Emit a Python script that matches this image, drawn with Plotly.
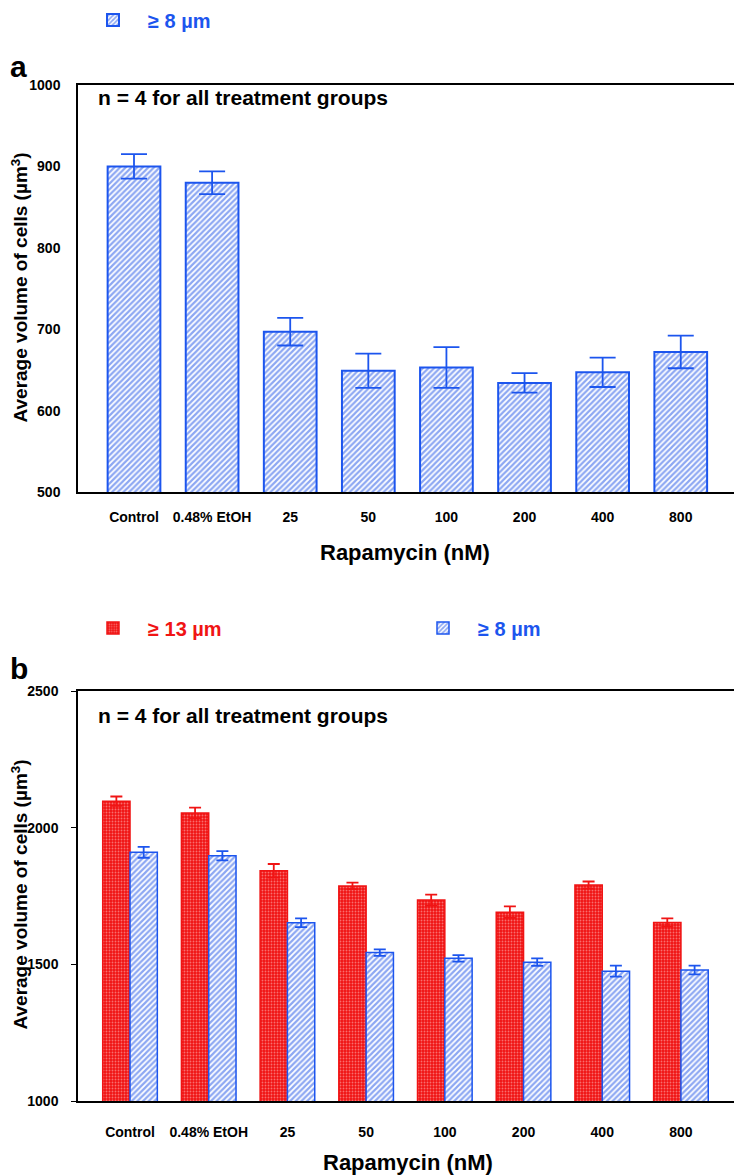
import plotly.graph_objects as go

categories = ["Control", "0.48% EtOH", "25", "50", "100", "200", "400", "800"]

# Panel a: >= 8 um
a_vals = [900, 880, 697, 649, 653, 634, 647, 672]
a_errs = [15, 14, 17, 21, 25, 12, 18, 20]

# Panel b: >= 13 um and >= 8 um
b13_vals = [2097, 2054, 1842, 1787, 1735, 1691, 1790, 1653]
b13_errs = [17, 19, 25, 12, 20, 21, 13, 15]
b8_vals = [1910, 1897, 1652, 1543, 1522, 1508, 1475, 1479]
b8_errs = [20, 17, 16, 12, 12, 14, 20, 16]

etoh_cats = ["25", "50", "100", "200", "400", "800"]

BLUE = "#1c55ee"
RED = "#f01414"
FONT = "Liberation Sans, Arial, sans-serif"
W, H = 742, 1176
OFF = 8  # page body margin offset

def px_x(p):
    return (p - OFF) / W

def px_y(p):
    return 1 - (p - OFF) / H

xa_dom = [px_x(78), px_x(738)]
ya_dom = [px_y(492), px_y(85)]
yb_dom = [px_y(1101), px_y(691)]

blue_pattern = dict(shape="/", fgcolor="#1a4fe6", bgcolor="white", size=4, solidity=0.55)

fig = go.Figure()

fig.add_trace(go.Bar(
    x=categories, y=a_vals, name="≥ 8 µm", width=0.675,
    marker=dict(color="white", line=dict(color=BLUE, width=2), pattern=blue_pattern),
    error_y=dict(type="data", array=a_errs, color=BLUE, thickness=1.8, width=13),
    xaxis="x", yaxis="y", legend="legend",
))

fig.add_trace(go.Bar(
    x=categories, y=b13_vals, name="≥ 13 µm",
    marker=dict(color=RED, line=dict(color=RED, width=1.5),
                pattern=dict(shape=".", fgcolor="#ffc8c8", bgcolor=RED, size=3, solidity=0.3)),
    error_y=dict(type="data", array=b13_errs, color=RED, thickness=1.8, width=6),
    xaxis="x2", yaxis="y2", legend="legend2",
))
fig.add_trace(go.Bar(
    x=categories, y=b8_vals, name="≥ 8 µm",
    marker=dict(color="white", line=dict(color=BLUE, width=1.5), pattern=blue_pattern),
    error_y=dict(type="data", array=b8_errs, color=BLUE, thickness=1.8, width=6),
    xaxis="x2", yaxis="y2", legend="legend3",
))

axis_common = dict(showline=True, linecolor="black", linewidth=1.5, mirror=True,
                   showgrid=False, zeroline=False,
                   tickfont=dict(family=FONT, size=14, color="black", weight="bold"))

legend_common = dict(xanchor="left", yanchor="middle", orientation="h", itemwidth=60,
                     bgcolor="rgba(0,0,0,0)")

fig.update_layout(
    width=W, height=H,
    margin=dict(l=0, r=0, t=0, b=0, autoexpand=False),
    paper_bgcolor="white", plot_bgcolor="white",
    barmode="group", bargap=0.306, bargroupgap=0,
    font=dict(family=FONT, color="black"),
    xaxis=dict(domain=xa_dom, anchor="y", type="category", range=[-0.717, 7.733],
               ticks="", ticklabelstandoff=11, **axis_common),
    yaxis=dict(domain=ya_dom, anchor="x", range=[500, 1000], tickvals=[500, 600, 700, 800, 900, 1000],
               ticks="", ticklabelstandoff=13, **axis_common),
    xaxis2=dict(domain=xa_dom, anchor="y2", type="category", range=[-0.661, 7.725],
                ticks="", ticklabelstandoff=17, **axis_common),
    yaxis2=dict(domain=yb_dom, anchor="x2", range=[1000, 2500], tickvals=[1000, 1500, 2000, 2500],
                ticks="outside", ticklen=5, tickwidth=1.2, tickcolor="black", ticklabelstandoff=10,
                **axis_common),
    legend=dict(x=px_x(78), y=px_y(20),
                font=dict(family=FONT, size=20, color=BLUE, weight="bold"), **legend_common),
    legend2=dict(x=px_x(78), y=px_y(628),
                 font=dict(family=FONT, size=20, color=RED, weight="bold"), **legend_common),
    legend3=dict(x=px_x(408), y=px_y(628),
                 font=dict(family=FONT, size=20, color=BLUE, weight="bold"), **legend_common),
    showlegend=True,
)

ann = []
# panel letters
ann.append(dict(text="<b>a</b>", x=px_x(8), y=px_y(66), xref="paper", yref="paper",
                xanchor="left", yanchor="middle", showarrow=False, font=dict(size=30, family=FONT)))
ann.append(dict(text="<b>b</b>", x=px_x(8), y=px_y(668), xref="paper", yref="paper",
                xanchor="left", yanchor="middle", showarrow=False, font=dict(size=30, family=FONT)))
# n = 4 notes
ann.append(dict(text="<b>n = 4 for all treatment groups</b>", x=px_x(96), y=985, xref="paper", yref="y",
                xanchor="left", yanchor="middle", showarrow=False, font=dict(size=21, family=FONT)))
ann.append(dict(text="<b>n = 4 for all treatment groups</b>", x=px_x(96), y=2410, xref="paper", yref="y2",
                xanchor="left", yanchor="middle", showarrow=False, font=dict(size=21, family=FONT)))
# EtOH labels
for c in etoh_cats:
    ann.append(dict(text="<b>EtOH</b>", x=c, y=766, xref="x", yref="y",
                    xanchor="center", yanchor="middle", showarrow=False, font=dict(size=14, family=FONT)))
    ann.append(dict(text="<b>0.48%</b>", x=c, y=732, xref="x", yref="y",
                    xanchor="center", yanchor="middle", showarrow=False, font=dict(size=14, family=FONT)))
    ann.append(dict(text="<b>EtOH</b>", x=c, y=2092, xref="x2", yref="y2",
                    xanchor="center", yanchor="middle", showarrow=False, font=dict(size=14, family=FONT)))
    ann.append(dict(text="<b>0.48%</b>", x=c, y=2020, xref="x2", yref="y2",
                    xanchor="center", yanchor="middle", showarrow=False, font=dict(size=14, family=FONT)))
# axis titles
ann.append(dict(text="<b>Average volume of cells (µm<sup>3</sup>)</b>", x=px_x(19.5), y=px_y(288),
                xref="paper", yref="paper", textangle=-90, showarrow=False,
                xanchor="center", yanchor="middle", font=dict(size=19, family=FONT)))
ann.append(dict(text="<b>Average volume of cells (µm<sup>3</sup>)</b>", x=px_x(19.5), y=px_y(895),
                xref="paper", yref="paper", textangle=-90, showarrow=False,
                xanchor="center", yanchor="middle", font=dict(size=19, family=FONT)))
ann.append(dict(text="<b>Rapamycin (nM)</b>", x=px_x(405), y=px_y(552), xref="paper", yref="paper",
                showarrow=False, xanchor="center", yanchor="middle", font=dict(size=22, family=FONT)))
ann.append(dict(text="<b>Rapamycin (nM)</b>", x=px_x(408), y=px_y(1162), xref="paper", yref="paper",
                showarrow=False, xanchor="center", yanchor="middle", font=dict(size=22, family=FONT)))

fig.update_layout(annotations=ann)

fig.write_html("out.html")
